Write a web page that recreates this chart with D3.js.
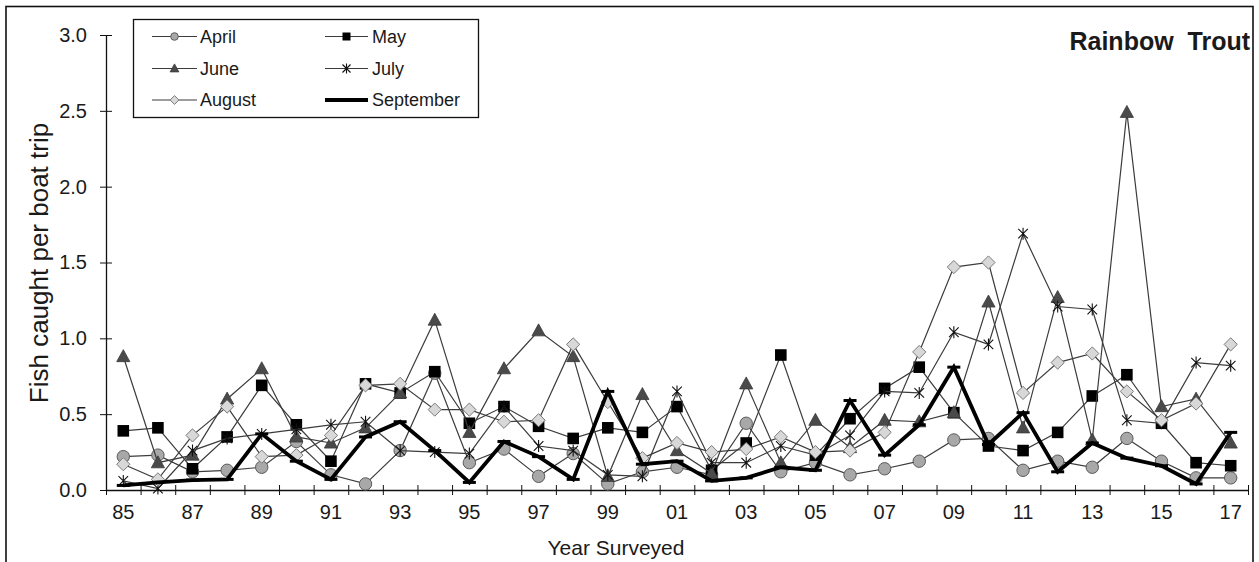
<!DOCTYPE html>
<html>
<head>
<meta charset="utf-8">
<script src="https://cdn.jsdelivr.net/npm/d3@7"></script>
<style>
  body { margin: 0; background: #fff; }
  svg { display: block; }
  text { font-family: "Liberation Sans", Arial, sans-serif; fill: #1a1a1a; }
</style>
</head>
<body>
<svg id="chart" width="1259" height="562"></svg>
<script>
// Survey years (two-digit labels) and the labels printed under the axis
const years = ["85","86","87","88","89","90","91","92","93","94","95","96","97","98","99","00",
               "01","02","03","04","05","06","07","08","09","10","11","12","13","14","15","16","17"];
const yearLabels = ["85","87","89","91","93","95","97","99","01","03","05","07","09","11","13","15","17"];
const yTicks = [0, 0.5, 1.0, 1.5, 2.0, 2.5, 3.0];

// Fish caught per boat trip, by month of survey
const april = [0.22,0.23,0.12,0.13,0.15,0.32,0.10,0.04,0.26,0.77,0.18,0.27,0.09,0.24,0.04,0.12,
               0.15,0.10,0.44,0.12,0.18,0.10,0.14,0.19,0.33,0.34,0.13,0.19,0.15,0.34,0.19,0.08,0.08];
const may = [0.39,0.41,0.14,0.35,0.69,0.43,0.19,0.70,0.64,0.78,0.44,0.55,0.42,0.34,0.41,0.38,
             0.55,0.13,0.31,0.89,0.23,0.47,0.67,0.81,0.51,0.29,0.26,0.38,0.62,0.76,0.44,0.18,0.16];
const june = [0.88,0.18,0.23,0.60,0.80,0.35,0.31,0.41,0.64,1.12,0.38,0.80,1.05,0.88,0.09,0.63,
              0.26,0.11,0.70,0.18,0.46,0.28,0.46,0.45,0.51,1.24,0.41,1.27,0.33,2.49,0.55,0.60,0.31];
const july = [0.06,0.01,0.26,0.34,0.37,0.40,0.43,0.45,0.26,0.25,0.24,0.55,0.29,0.26,0.10,0.09,
              0.65,0.18,0.18,0.29,0.23,0.36,0.65,0.64,1.04,0.96,1.69,1.21,1.19,0.46,0.44,0.84,0.82];
const august = [0.17,0.07,0.36,0.55,0.22,0.23,0.36,0.69,0.70,0.53,0.53,0.45,0.46,0.96,0.58,0.21,
                0.31,0.25,0.27,0.35,0.25,0.26,0.38,0.91,1.47,1.50,0.64,0.84,0.90,0.65,0.46,0.57,0.96];
const september = [0.03,0.05,0.065,0.07,0.37,0.19,0.07,0.35,0.45,0.26,0.05,0.32,0.22,0.07,0.65,0.17,
                   0.19,0.06,0.08,0.15,0.13,0.59,0.23,0.43,0.81,0.30,0.51,0.12,0.31,0.21,0.16,0.04,0.38];

const svg = d3.select("#chart");
const plot = { left: 106, right: 1248, top: 35, bottom: 490 };

const x = d3.scaleBand().domain(years).range([plot.left, plot.right]);
const xc = d => x(d) + x.bandwidth() / 2;
const xEdge = d3.scaleLinear().domain([0, years.length]).range([plot.left, plot.right]);
const y = d3.scaleLinear().domain([0, 3]).range([plot.bottom, plot.top]);

// chart frame
svg.append("rect")
  .attr("x", 6).attr("y", 6.5).attr("width", 1247).attr("height", 620)
  .attr("fill", "none").attr("stroke", "#111").attr("stroke-width", 1.6);

// marker shapes
const lineColor = "#3c3c3c";
const markers = {
  circle: (g, s) => g.append("circle").attr("r", s).attr("fill", "#a8a8a8").attr("stroke", "#5a5a5a").attr("stroke-width", 1),
  square: (g, s) => g.append("rect").attr("x", -s).attr("y", -s).attr("width", 2 * s).attr("height", 2 * s).attr("fill", "#000"),
  triangle: (g, s) => g.append("path")
      .attr("d", `M0,${-s * 1.15}L${s * 1.1},${s * 0.85}L${-s * 1.1},${s * 0.85}Z`)
      .attr("fill", "#4a4a4a").attr("stroke", "#3a3a3a").attr("stroke-width", 0.8),
  star: (g, s) => g.append("path")
      .attr("d", `M0,${-s}V${s}M${-s * 0.8},${-s * 0.8}L${s * 0.8},${s * 0.8}M${-s * 0.8},${s * 0.8}L${s * 0.8},${-s * 0.8}`)
      .attr("fill", "none").attr("stroke", "#111").attr("stroke-width", 1.1),
  diamond: (g, s) => g.append("path")
      .attr("d", `M0,${-s * 1.1}L${s * 1.1},0L0,${s * 1.1}L${-s * 1.1},0Z`)
      .attr("fill", "#d8d8d8").attr("stroke", "#7a7a7a").attr("stroke-width", 1),
  dash: (g, s) => g.append("line").attr("x1", -s).attr("x2", s)
      .attr("stroke", "#000").attr("stroke-width", 3)
};

const series = [
  { name: "April", values: april, marker: "circle", size: 6.2, legendSize: 3.8, width: 1.2, color: lineColor },
  { name: "May", values: may, marker: "square", size: 5.8, legendSize: 4, width: 1.2, color: lineColor },
  { name: "June", values: june, marker: "triangle", size: 6, legendSize: 4, width: 1.2, color: lineColor },
  { name: "July", values: july, marker: "star", size: 6, legendSize: 5, width: 1.2, color: lineColor },
  { name: "August", values: august, marker: "diamond", size: 6, legendSize: 4, width: 1.2, color: lineColor },
  { name: "September", values: september, marker: "dash", size: 6.5, legendSize: 0, width: 3.8, color: "#000" }
];

// axes
const yAxis = d3.axisLeft(y).tickValues(yTicks).tickFormat(d3.format(".1f"))
  .tickSize(6).tickSizeOuter(0).tickPadding(13);
const gy = svg.append("g").attr("transform", `translate(${plot.left},0)`).call(yAxis);
gy.selectAll(".tick line").attr("x1", 6).attr("stroke", "#111");
gy.select(".domain").attr("stroke", "#111").attr("stroke-width", 1.3);
gy.selectAll(".tick text").attr("font-size", 20).style("fill", "#1a1a1a");

const xTicks = d3.axisBottom(xEdge).tickValues(d3.range(0, years.length + 1))
  .tickFormat("").tickSize(5).tickSizeOuter(0);
const gx = svg.append("g").attr("transform", `translate(0,${plot.bottom})`).call(xTicks);
gx.selectAll(".tick line").attr("y1", -5).attr("stroke", "#111");
gx.select(".domain").attr("stroke", "#111").attr("stroke-width", 1.3);

const xLabels = d3.axisBottom(x).tickValues(yearLabels).tickSize(0).tickPadding(15);
const gxl = svg.append("g").attr("transform", `translate(0,${plot.bottom})`).call(xLabels);
gxl.select(".domain").remove();
gxl.selectAll(".tick text").attr("font-size", 20).style("fill", "#1a1a1a");

// axis titles
svg.append("text")
  .attr("transform", "translate(39,263) rotate(-90)")
  .attr("text-anchor", "middle").attr("dy", "0.35em")
  .attr("font-size", 26).text("Fish caught per boat trip");
svg.append("text")
  .attr("x", 616).attr("y", 555).attr("text-anchor", "middle")
  .attr("font-size", 21).text("Year Surveyed");

// chart title
svg.append("text")
  .attr("x", 1250).attr("y", 50).attr("text-anchor", "end")
  .attr("font-size", 25).attr("font-weight", "bold")
  .style("white-space", "pre").text("Rainbow  Trout");

// series lines and markers
const line = d3.line().x((d, i) => xc(years[i])).y(d => y(d));
series.forEach(s => {
  const g = svg.append("g").attr("class", "series");
  g.append("path").datum(s.values).attr("d", line)
    .attr("fill", "none").attr("stroke", s.color).attr("stroke-width", s.width)
    .attr("stroke-linejoin", "miter");
  s.values.forEach((v, i) => {
    const m = g.append("g").attr("transform", `translate(${xc(years[i])},${y(v)})`);
    markers[s.marker](m, s.size);
  });
});

// legend
const legend = svg.append("g");
legend.append("rect")
  .attr("x", 133.5).attr("y", 19.5).attr("width", 345).attr("height", 98)
  .attr("fill", "#fff").attr("stroke", "#111").attr("stroke-width", 1.3);
const cols = [{ x1: 152, x2: 197, tx: 200 }, { x1: 325, x2: 368, tx: 372 }];
const rows = [36.5, 68.5, 100];
series.forEach((s, i) => {
  const c = cols[i % 2], r = rows[Math.floor(i / 2)];
  const item = legend.append("g");
  item.append("line").attr("x1", c.x1).attr("x2", c.x2).attr("y1", r).attr("y2", r)
    .attr("stroke", s.color).attr("stroke-width", s.width);
  if (s.legendSize > 0) {
    const m = item.append("g").attr("transform", `translate(${(c.x1 + c.x2) / 2},${r})`);
    markers[s.marker](m, s.legendSize);
  }
  item.append("text").attr("x", c.tx).attr("y", r).attr("dy", "0.35em")
    .attr("font-size", 18).text(s.name);
});
</script>
</body>
</html>
